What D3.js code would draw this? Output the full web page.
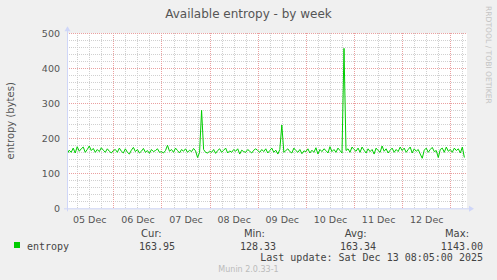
<!DOCTYPE html>
<html lang="en">
<head>
<meta charset="utf-8">
<title>Available entropy - by week</title>
<script src="https://d3js.org/d3.v7.min.js"></script>
<style>
  body { margin: 0; background: #f0f0f0; }
  svg { display: block; }
</style>
</head>
<body>
<svg width="497" height="280"></svg>
<script>
// hourly samples starting Dec 5 00:00
var startTime = new Date(2025, 11, 5, 0, 0);
var entropy = [
  158,155,166,160,172,158,176,163,170,175,160,168,178,165,171,160,168,162,173,166,160,170,163,158,
  165,168,160,172,163,158,170,160,155,166,174,162,168,158,163,171,160,165,157,168,162,165,170,160,
  162,158,165,180,163,168,160,172,165,158,168,163,170,160,166,162,171,164,145,160,280,168,160,158,
  163,160,168,157,165,170,160,166,172,158,164,160,168,163,170,155,166,162,160,168,163,158,166,170,
  165,160,168,162,170,158,165,172,160,166,155,168,238,160,165,170,162,158,172,165,160,168,156,164,
  162,170,158,166,160,173,155,168,162,170,165,158,176,162,168,160,172,165,158,457,165,170,160,175,
  168,163,172,160,175,166,158,170,162,168,155,172,165,160,178,163,170,158,166,172,160,168,162,175,
  165,172,160,168,175,158,170,163,168,155,143,166,172,160,168,174,162,165,145,168,172,160,175,163,
  168,160,172,165,170,158,175,145
];
var dayLabels = ["05 Dec","06 Dec","07 Dec","08 Dec","09 Dec","10 Dec","11 Dec","12 Dec"];
var yTicks = [0,100,200,300,400,500];
var statNames = ["Cur:","Min:","Avg:","Max:"];
var statValues = ["163.95","128.33","163.34","1143.00"];
var seriesName = "entropy";
var lastUpdate = "Last update: Sat Dec 13 08:05:00 2025";

var svg = d3.select("svg");
var plot = {left:67, right:467, top:33.3, bottom:208.3};

var xScale = d3.scaleTime()
    .domain([new Date(2025,11,5,0,54), new Date(2025,11,13,8,19)])
    .range([plot.left, plot.right]);
var yScale = d3.scaleLinear()
    .domain([0,500])
    .range([plot.bottom, plot.top]);

var points = entropy.map(function(v,i){
    return {t: d3.timeHour.offset(startTime, i), v: v};
});

// canvas
svg.append("rect")
    .attr("x",plot.left).attr("y",plot.top)
    .attr("width",plot.right-plot.left).attr("height",plot.bottom-plot.top)
    .attr("fill","#fff");

var grid = svg.append("g").attr("shape-rendering","crispEdges");

// minor grid
grid.selectAll(".hmin")
    .data(d3.range(20,501,20).filter(function(d){return d%100!=0;}))
    .enter().append("line")
    .attr("x1",plot.left).attr("x2",plot.right)
    .attr("y1",function(d){return Math.round(yScale(d))+0.5;})
    .attr("y2",function(d){return Math.round(yScale(d))+0.5;})
    .attr("stroke","#d0d0d0").attr("stroke-dasharray","1,1");

grid.selectAll(".vmin")
    .data(d3.timeHour.every(6).range(xScale.domain()[0], xScale.domain()[1]).filter(function(d){return d.getHours()!=0;}))
    .enter().append("line")
    .attr("y1",plot.top).attr("y2",plot.bottom)
    .attr("x1",function(d){return Math.round(xScale(d))+0.5;})
    .attr("x2",function(d){return Math.round(xScale(d))+0.5;})
    .attr("stroke","#d0d0d0").attr("stroke-dasharray","1,1");

// major grid
grid.selectAll(".hmaj")
    .data(yTicks.slice(1))
    .enter().append("line")
    .attr("x1",plot.left).attr("x2",plot.right)
    .attr("y1",function(d){return Math.round(yScale(d))+0.5;})
    .attr("y2",function(d){return Math.round(yScale(d))+0.5;})
    .attr("stroke","#eaa0a0").attr("stroke-dasharray","1,1");

var days = d3.timeDay.range(xScale.domain()[0], xScale.domain()[1]);
grid.selectAll(".vmaj")
    .data(days)
    .enter().append("line")
    .attr("y1",plot.top).attr("y2",plot.bottom)
    .attr("x1",function(d){return Math.round(xScale(d))+0.5;})
    .attr("x2",function(d){return Math.round(xScale(d))+0.5;})
    .attr("stroke","#eaa0a0").attr("stroke-dasharray","1,1");

// data line
svg.append("clipPath").attr("id","clip")
    .append("rect")
    .attr("x",plot.left).attr("y",plot.top-2)
    .attr("width",plot.right-plot.left).attr("height",plot.bottom-plot.top+2);

var line = d3.line()
    .x(function(d){return xScale(d.t);})
    .y(function(d){return yScale(d.v);});

svg.append("path")
    .datum(points)
    .attr("clip-path","url(#clip)")
    .attr("d",line)
    .attr("fill","none")
    .attr("stroke","#00cc00")
    .attr("stroke-width",1);

// axes
var axisColor = "#cfd6f8";
svg.append("line")
    .attr("x1",plot.left+0.5).attr("x2",plot.left+0.5)
    .attr("y1",plot.bottom+3).attr("y2",plot.top-4)
    .attr("stroke",axisColor);
svg.append("path")
    .attr("d","M"+(plot.left-2.5)+","+(plot.top-2)+"L"+(plot.left+0.5)+","+(plot.top-7)+"L"+(plot.left+3.5)+","+(plot.top-2)+"Z")
    .attr("fill",axisColor);
svg.append("line")
    .attr("x1",plot.left-3).attr("x2",plot.right+3)
    .attr("y1",plot.bottom+0.5).attr("y2",plot.bottom+0.5)
    .attr("stroke",axisColor);
svg.append("path")
    .attr("d","M"+(plot.right+2)+","+(plot.bottom-2.5)+"L"+(plot.right+7)+","+(plot.bottom+0.5)+"L"+(plot.right+2)+","+(plot.bottom+3.5)+"Z")
    .attr("fill",axisColor);

// tick labels
var yAxis = d3.axisLeft(yScale).tickValues(yTicks).tickSize(0).tickPadding(7);
svg.append("g")
    .attr("transform","translate("+plot.left+",0)")
    .call(yAxis)
    .call(function(g){g.select(".domain").remove();})
    .selectAll("text")
    .attr("font-family","DejaVu Sans").attr("font-size",9.5).attr("fill","#555");

var labelDates = dayLabels.map(function(l,i){return d3.timeHour.offset(startTime, 12+24*i);});
var xAxis = d3.axisBottom(xScale).tickValues(labelDates).tickSize(0).tickPadding(8)
    .tickFormat(function(d,i){return dayLabels[i];});
svg.append("g")
    .attr("transform","translate(0,"+plot.bottom+")")
    .call(xAxis)
    .call(function(g){g.select(".domain").remove();})
    .selectAll("text")
    .attr("font-family","DejaVu Sans").attr("font-size",9.5).attr("fill","#555");

// title & labels
svg.append("text")
    .attr("x",248.5).attr("y",18)
    .attr("text-anchor","middle")
    .attr("font-family","DejaVu Sans").attr("font-size",12)
    .attr("fill","#555")
    .text("Available entropy - by week");

svg.append("text")
    .attr("transform","translate(14,"+((plot.top+plot.bottom)/2)+") rotate(-90)")
    .attr("text-anchor","middle")
    .attr("font-family","DejaVu Sans").attr("font-size",10)
    .attr("fill","#555")
    .text("entropy (bytes)");

svg.append("text")
    .attr("transform","translate(485.5,6) rotate(90)")
    .attr("font-family","DejaVu Sans").attr("font-size",7.6)
    .attr("fill","#c4c4c4")
    .text("RRDTOOL / TOBI OETIKER");

// legend
var headEnds = [161.7, 265, 366.7, 469];
var valEnds = [175, 276, 376, 483];
svg.selectAll(".shead")
    .data(statNames).enter().append("text")
    .attr("x",function(d,i){return headEnds[i];})
    .attr("y",237)
    .attr("text-anchor","end")
    .attr("font-family","DejaVu Sans").attr("font-size",10)
    .attr("fill","#444")
    .text(function(d){return d;});

svg.append("rect")
    .attr("x",14).attr("y",242).attr("width",6).attr("height",6)
    .attr("fill","#00cc00");
svg.append("text")
    .attr("x",27).attr("y",249.5)
    .attr("font-family","DejaVu Sans Mono").attr("font-size",10)
    .attr("fill","#444")
    .text(seriesName);

svg.selectAll(".sval")
    .data(statValues).enter().append("text")
    .attr("x",function(d,i){return valEnds[i];})
    .attr("y",249.5)
    .attr("text-anchor","end")
    .attr("font-family","DejaVu Sans Mono").attr("font-size",10)
    .attr("fill","#444")
    .text(function(d){return d;});

svg.append("text")
    .attr("x",483).attr("y",261)
    .attr("text-anchor","end")
    .attr("font-family","DejaVu Sans Mono").attr("font-size",10)
    .attr("fill","#444")
    .text(lastUpdate);

svg.append("text")
    .attr("x",248.5).attr("y",272)
    .attr("text-anchor","middle")
    .attr("font-family","DejaVu Sans").attr("font-size",8)
    .attr("fill","#bbb")
    .text("Munin 2.0.33-1");
</script>
</body>
</html>
